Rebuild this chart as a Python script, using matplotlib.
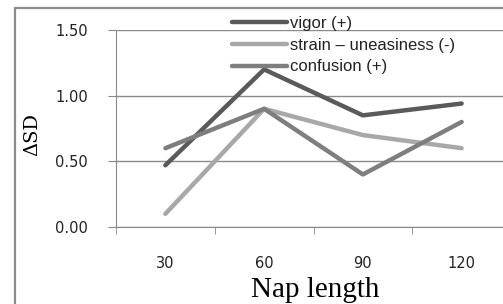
import matplotlib.pyplot as plt
import numpy as np
from matplotlib.patches import Rectangle

CATEGORIES = ["30", "60", "90", "120"]
VIGOR = [0.47, 1.20, 0.85, 0.94]
STRAIN = [0.10, 0.90, 0.70, 0.60]
CONFUSION = [0.60, 0.90, 0.40, 0.80]
SERIES = [
    ("vigor (+)", VIGOR, "#5a5a5a"),
    ("strain – uneasiness (-)", STRAIN, "#a8a8a8"),
    ("confusion (+)", CONFUSION, "#7e7e7e"),
]
YTICKS = [0.0, 0.5, 1.0, 1.5]

W, H = 503, 304


def main():
    fig = plt.figure(figsize=(W / 100, H / 100), dpi=100)
    fig.patch.set_facecolor("white")

    # outer chart border, cut off by the image edges
    fig.patches.append(Rectangle((15 / W, -0.1), 1.2, 1 - 8 / H + 0.1,
                                 transform=fig.transFigure, fill=False,
                                 edgecolor="#8c8c8c", linewidth=1.6))

    ax = fig.add_axes([116 / W, 1 - 227 / H, 395 / W, 197 / H])
    x = np.arange(len(CATEGORIES))
    for label, vals, color in SERIES:
        ax.plot(x, vals, color=color, linewidth=3.2, label=label,
                solid_capstyle="round", zorder=3)

    ax.set_xlim(-0.5, len(CATEGORIES) - 0.5)
    ax.set_ylim(0, 1.5)
    ax.set_yticks(YTICKS)
    ax.set_yticklabels([f"{v:.2f}" for v in YTICKS])
    ax.set_xticks(x)
    ax.set_xticklabels(CATEGORIES)
    ax.set_xticks(np.arange(len(CATEGORIES) + 1) - 0.5, minor=True)
    ax.tick_params(axis="x", which="major", length=0, pad=21,
                   labelsize=10.5, colors="#222222")
    ax.tick_params(axis="x", which="minor", length=5, color="#888888")
    ax.tick_params(axis="y", length=6, color="#888888", pad=14,
                   labelsize=10.5, labelcolor="#222222")
    for t in ax.get_xticklabels() + ax.get_yticklabels():
        t.set_family("DejaVu Sans")

    ax.grid(axis="y", color="#8a8a8a", linewidth=1.0)
    ax.set_axisbelow(True)
    for side in ["top", "right"]:
        ax.spines[side].set_visible(False)
    ax.spines["left"].set_color("#8a8a8a")
    ax.spines["bottom"].set_color("#8a8a8a")

    fig.text(32 / W, 1 - 135 / H, "ΔSD", family="DejaVu Serif", fontsize=14,
             rotation=90, ha="center", va="center")
    fig.text(315 / W, 1 - 290 / H, "Nap length", family="Liberation Serif",
             fontsize=21, ha="center", va="center")

    leg = ax.legend(loc="upper left", bbox_to_anchor=(116 / 395, 1 + 14 / 197),
                    frameon=False, handlelength=3.3, handletextpad=0.2,
                    labelspacing=0.4, borderpad=0, borderaxespad=0,
                    prop={"family": "Liberation Sans", "size": 12})
    for t in leg.get_texts():
        t.set_color("#222222")

    fig.savefig("out.png", dpi=100, facecolor="white")


if __name__ == "__main__":
    main()
